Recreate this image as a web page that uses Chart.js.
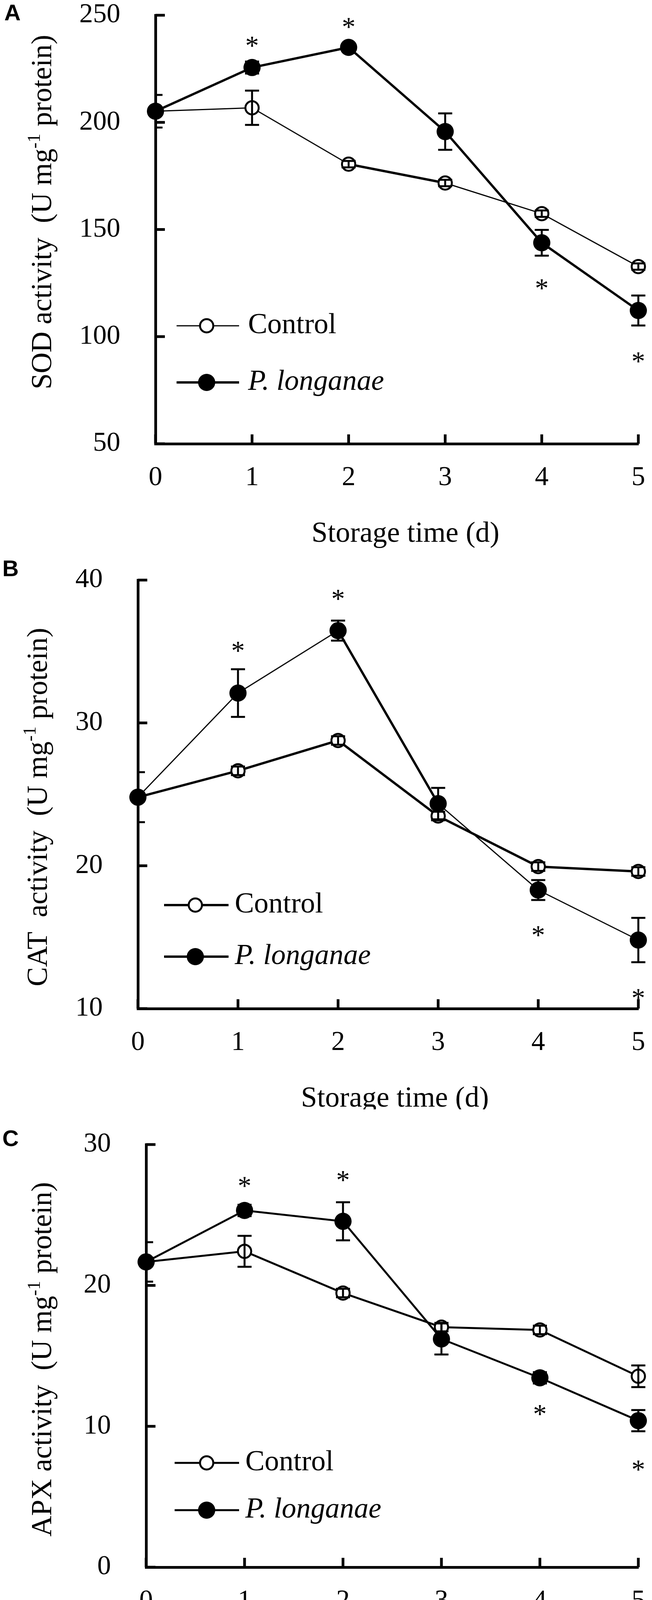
<!DOCTYPE html>
<html>
<head>
<meta charset="utf-8">
<script src="https://cdn.jsdelivr.net/npm/chart.js@4.4.0/dist/chart.umd.min.js"></script>
<style>
    html, body { margin: 0; padding: 0; background: #fff; }
    body { width: 1669px; height: 4280px; position: relative; overflow: hidden; }
    .panel { position: absolute; left: 0; width: 1669px; }
</style>
</head>
<body>
<div class="panel" style="top:0px;height:1420px"><canvas id="chartA"></canvas></div>
<div class="panel" style="top:1420px;height:1420px"><canvas id="chartB"></canvas></div>
<div class="panel" style="top:2840px;height:1440px"><canvas id="chartC"></canvas></div>
<script>
//------------
//- DATA -
//------------
var days = [0, 1, 2, 3, 4, 5];
var seriesLabels = ["Control", "P. longanae"];
var xTitle = "Storage time (d)";

// A - SOD
var sodTicks = [50, 100, 150, 200, 250];
var sodControl = [205.2, 206.8, 180.5, 171.7, 157.4, 132.7];
var sodControlErr = [7.6, 8.0, 1.5, 1.5, 1.5, 1.5];
var sodLonganae = [205.2, 225.6, 235.0, 195.7, 143.8, 112.2];
var sodLonganaeErr = [1.5, 2.8, 1.5, 8.5, 6.0, 7.0];
var sodStarDays = [1, 2, 4, 5];
var sodStarY = [237.6, 246.3, 124.4, 90.3];

// B - CAT
var catTicks = [10, 20, 30, 40];
var catControl = [24.8, 26.65, 28.77, 23.48, 19.94, 19.6];
var catControlErr = [1.75, 0.3, 0.3, 0.3, 0.3, 0.3];
var catLonganae = [24.8, 32.09, 36.46, 24.35, 18.3, 14.8];
var catLonganaeErr = [0.3, 1.67, 0.7, 1.1, 0.7, 1.55];
var catStarDays = [1, 2, 4, 5];
var catStarY = [35.33, 38.95, 15.42, 11.0];

// C - APX
var apxTicks = [0, 10, 20, 30];
var apxControl = [21.67, 22.42, 19.46, 17.04, 16.84, 13.55];
var apxControlErr = [1.4, 1.1, 0.3, 0.3, 0.3, 0.77];
var apxLonganae = [21.67, 25.32, 24.55, 16.2, 13.44, 10.4];
var apxLonganaeErr = [0.3, 0.4, 1.35, 1.1, 0.4, 0.75];
var apxStarDays = [1, 2, 4, 5];
var apxStarY = [27.33, 27.76, 11.13, 7.2];

var serif = "'Liberation Serif', 'Times New Roman', serif";

//------------
//- PANELS (layout + style) -
//------------
var panels = [{
    id: "chartA", letter: "A", letterPos: [32, 36], height: 1420,
    area: { left: 398, top: 39, bottom: 1136, right: 1634 },
    ticks: sodTicks, control: sodControl, controlErr: sodControlErr,
    longanae: sodLonganae, longanaeErr: sodLonganaeErr,
    starDays: sodStarDays, starY: sodStarY,
    yTitle: ["SOD activity  (U mg", "-1", " protein)"], yTitlePos: [112, 543],
    xTitlePos: [1038, 1368],
    controlWidths: [3, 3, 6, 3, 3], longanaeWidths: [6, 6, 6, 6, 6],
    legend: { y: [834, 979], x1: 452, x2: 612, mx: 529, tx: 635, widths: [3, 6] }
}, {
    id: "chartB", letter: "B", letterPos: [27, 39], height: 1420,
    area: { left: 353, top: 65, bottom: 1162, right: 1634 },
    ticks: catTicks, control: catControl, controlErr: catControlErr,
    longanae: catLonganae, longanaeErr: catLonganaeErr,
    starDays: catStarDays, starY: catStarY,
    yTitle: ["CAT  activity  (U mg", "-1", " protein)"], yTitlePos: [101, 646],
    xTitlePos: [1011, 1394],
    controlWidths: [6, 6, 6, 6, 6], longanaeWidths: [3, 3, 6, 3, 3],
    legend: { y: [897, 1029], x1: 420, x2: 585, mx: 500, tx: 601, widths: [6, 6] }
}, {
    id: "chartC", letter: "C", letterPos: [27, 78], height: 1440,
    area: { left: 374, top: 90, bottom: 1172, right: 1634 },
    ticks: apxTicks, control: apxControl, controlErr: apxControlErr,
    longanae: apxLonganae, longanaeErr: apxLonganaeErr,
    starDays: apxStarDays, starY: apxStarY,
    yTitle: ["APX activity  (U mg", "-1", " protein)"], yTitlePos: [112, 640],
    xTitlePos: [1027, 1382],
    controlWidths: [5, 5, 5, 5, 5], longanaeWidths: [5, 5, 5, 5, 5],
    legend: { y: [905, 1026], x1: 447, x2: 612, mx: 529, tx: 628, widths: [5, 5] }
}];
var panelById = {};
panels.forEach(function(p) { panelById[p.id] = p; });

function drawOpenMarker(c, x, y) {
    c.beginPath();
    c.arc(x, y, 17, 0, Math.PI * 2);
    c.fillStyle = "#fff";
    c.fill();
    c.lineWidth = 5;
    c.strokeStyle = "#000";
    c.stroke();
}

function drawFilledMarker(c, x, y) {
    c.beginPath();
    c.arc(x, y, 22, 0, Math.PI * 2);
    c.fillStyle = "#000";
    c.fill();
}

// rotated y title with a superscript part
function drawYTitle(c, parts, cx, cy, size) {
    var supSize = Math.round(size * 0.62);
    var widths = parts.map(function(t, i) {
        c.font = (i === 1 ? supSize : size) + "px " + serif;
        return c.measureText(t).width;
    });
    var total = widths[0] + widths[1] + widths[2];
    c.save();
    c.translate(cx, cy);
    c.rotate(-Math.PI / 2);
    c.fillStyle = "#000";
    c.textBaseline = "middle";
    c.textAlign = "left";
    var x = -total / 2;
    parts.forEach(function(t, i) {
        c.font = (i === 1 ? supSize : size) + "px " + serif;
        c.fillText(t, x, i === 1 ? -size * 0.3 : 0);
        x += widths[i];
    });
    c.restore();
}

var extrasPlugin = {
    id: "extras",
    afterDatasetsDraw: function(chart) {
        var p = panelById[chart.canvas.id];
        var c = chart.ctx;
        var xs = chart.scales.x;
        var ys = chart.scales.y;
        var area = chart.chartArea;
        c.save();
        c.strokeStyle = "#000";
        c.lineCap = "butt";

        //inward tick marks
        c.lineWidth = 7;
        days.forEach(function(d) {
            var px = xs.getPixelForValue(d);
            c.beginPath();
            c.moveTo(px, area.bottom);
            c.lineTo(px, area.bottom - 24);
            c.stroke();
        });
        p.ticks.forEach(function(v) {
            var py = ys.getPixelForValue(v);
            c.beginPath();
            c.moveTo(area.left, py);
            c.lineTo(area.left + 24, py);
            c.stroke();
        });

        //error bars (left half at day 0 hidden behind the axis)
        c.save();
        c.beginPath();
        c.rect(area.left, 0, chart.width - area.left, chart.height);
        c.clip();
        c.lineWidth = 5;
        [[p.control, p.controlErr], [p.longanae, p.longanaeErr]].forEach(function(s) {
            days.forEach(function(d, i) {
                var px = xs.getPixelForValue(d);
                var yHi = ys.getPixelForValue(s[0][i] + s[1][i]);
                var yLo = ys.getPixelForValue(s[0][i] - s[1][i]);
                c.beginPath();
                c.moveTo(px, yHi);
                c.lineTo(px, yLo);
                c.moveTo(px - 18, yHi);
                c.lineTo(px + 18, yHi);
                c.moveTo(px - 18, yLo);
                c.lineTo(px + 18, yLo);
                c.stroke();
            });
        });
        c.restore();

        //significance asterisks
        c.fillStyle = "#000";
        c.font = "70px " + serif;
        c.textAlign = "center";
        c.textBaseline = "alphabetic";
        p.starDays.forEach(function(d, i) {
            c.fillText("*", xs.getPixelForValue(d), ys.getPixelForValue(p.starY[i]) + 70 * 0.47);
        });

        //legend
        var lg = p.legend;
        for (var k = 0; k < 2; k++) {
            c.lineWidth = lg.widths[k];
            c.beginPath();
            c.moveTo(lg.x1, lg.y[k]);
            c.lineTo(lg.x2, lg.y[k]);
            c.stroke();
            if (k === 0) {
                drawOpenMarker(c, lg.mx, lg.y[k]);
            } else {
                drawFilledMarker(c, lg.mx, lg.y[k]);
            }
            c.fillStyle = "#000";
            c.font = (k === 1 ? "italic " : "") + "74px " + serif;
            c.textAlign = "left";
            c.textBaseline = "middle";
            c.fillText(seriesLabels[k], lg.tx, lg.y[k]);
        }

        //axis titles
        c.font = "74px " + serif;
        c.textAlign = "center";
        c.textBaseline = "middle";
        c.fillText(xTitle, p.xTitlePos[0], p.xTitlePos[1]);
        drawYTitle(c, p.yTitle, p.yTitlePos[0], p.yTitlePos[1], 74);

        //panel letter
        c.font = "bold 58px 'Liberation Sans', Arial, sans-serif";
        c.textAlign = "center";
        c.textBaseline = "middle";
        c.fillText(p.letter, p.letterPos[0], p.letterPos[1]);
        c.restore();
    }
};

function makeChart(p) {
    var ctx = document.getElementById(p.id).getContext("2d");
    var toPoints = function(values) {
        return days.map(function(d, i) { return { x: d, y: values[i] }; });
    };
    return new Chart(ctx, {
        type: "line",
        data: {
            datasets: [{
                label: seriesLabels[1],
                data: toPoints(p.longanae),
                order: 0,
                clip: false,
                borderColor: "#000",
                borderWidth: 6,
                segment: { borderWidth: function(s) { return p.longanaeWidths[s.p0DataIndex]; } },
                pointStyle: "circle",
                pointRadius: 22,
                pointBorderWidth: 0,
                pointBackgroundColor: "#000",
                pointBorderColor: "#000",
                tension: 0,
                fill: false
            }, {
                label: seriesLabels[0],
                data: toPoints(p.control),
                order: 1,
                clip: false,
                borderColor: "#000",
                borderWidth: 6,
                segment: { borderWidth: function(s) { return p.controlWidths[s.p0DataIndex]; } },
                pointStyle: "circle",
                pointRadius: 17,
                pointBorderWidth: 5,
                pointBackgroundColor: "#fff",
                pointBorderColor: "#000",
                tension: 0,
                fill: false
            }]
        },
        options: {
            responsive: true,
            maintainAspectRatio: false,
            animation: false,
            devicePixelRatio: 1,
            events: [],
            layout: { padding: { top: p.area.top, right: 1669 - p.area.right, left: 0, bottom: 0 } },
            plugins: { legend: { display: false }, tooltip: { enabled: false } },
            scales: {
                x: {
                    type: "linear",
                    min: 0,
                    max: 5,
                    grid: { display: false, drawTicks: false },
                    border: { display: true, color: "#000", width: 7 },
                    ticks: { color: "#000", font: { family: serif, size: 70 }, padding: 46, maxRotation: 0, autoSkip: false },
                    afterBuildTicks: function(s) { s.ticks = days.map(function(d) { return { value: d }; }); },
                    afterFit: function(s) { s.height = p.height - p.area.bottom; s.paddingLeft = 0; s.paddingRight = 0; }
                },
                y: {
                    type: "linear",
                    min: p.ticks[0],
                    max: p.ticks[p.ticks.length - 1],
                    grid: { display: false, drawTicks: false },
                    border: { display: true, color: "#000", width: 7 },
                    ticks: { color: "#000", font: { family: serif, size: 70 }, padding: 90 },
                    afterBuildTicks: function(s) { s.ticks = p.ticks.map(function(v) { return { value: v }; }); },
                    afterFit: function(s) { s.width = p.area.left; s.paddingTop = 0; s.paddingBottom = 0; }
                }
            }
        },
        plugins: [extrasPlugin]
    });
}

panels.forEach(makeChart);
</script>
</body>
</html>
